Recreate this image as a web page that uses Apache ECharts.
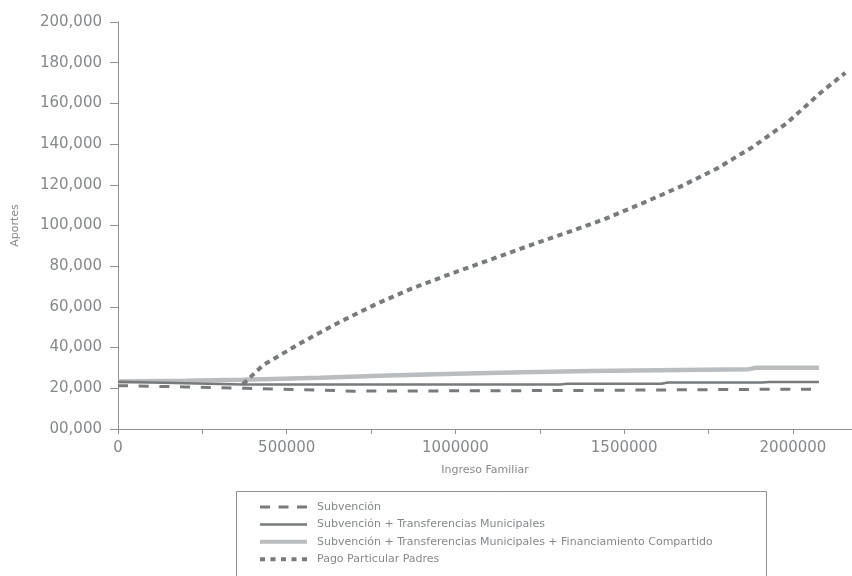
<!DOCTYPE html>
<html>
<head>
<meta charset="utf-8">
<script src="https://cdn.jsdelivr.net/npm/echarts@6/dist/echarts.min.js"></script>
<style>html,body{margin:0;padding:0;background:#fff}#c{width:852px;height:576px}</style>
</head>
<body>
<div id="c"></div>
<script>
// ---- data ----
const seriesNames = [
  'Subvención',
  'Subvención + Transferencias Municipales',
  'Subvención + Transferencias Municipales + Financiamiento Compartido',
  'Pago Particular Padres'
];
const subvX = [0, 200000, 380000, 550000, 700000, 900000, 1100000, 1300000, 1500000, 1700000, 1900000, 2077000];
const subvY = [21300, 20700, 20000, 19300, 18600, 18700, 18800, 18900, 19100, 19300, 19500, 19600];

const transX = [0, 370000, 1310000, 1330000, 1610000, 1630000, 1910000, 1930000, 2077000];
const transY = [23200, 21900, 21900, 22200, 22200, 22800, 22800, 23100, 23100];

const finX = [0, 200000, 370000, 600000, 800000, 1000000, 1200000, 1400000, 1600000, 1870000, 1890000, 2077000];
const finY = [23300, 23700, 24200, 25200, 26300, 27200, 27900, 28500, 28900, 29400, 30100, 30100];

const pagoX = [370000, 430000, 540000, 650000, 760000, 870000, 985000, 1100000, 1210000, 1330000, 1440000, 1555000, 1665000, 1775000, 1880000, 1955000, 1980000, 2080000, 2155000];
const pagoY = [22000, 31400, 42100, 52000, 61000, 69000, 76200, 83000, 89600, 96500, 103000, 111000, 119000, 128000, 138500, 147300, 150000, 165000, 175000];

const xLabelValues = [0, 500000, 1000000, 1500000, 2000000];
const xTickValues = [0, 250000, 500000, 750000, 1000000, 1250000, 1500000, 1750000, 2000000];

// ---- chart ----
const zip = (xs, ys) => xs.map((x, i) => [x, ys[i]]);
const FONT = 'DejaVu Sans';
const dark = '#777b7e';
const light = '#b9bdbf';
const axisCol = '#8f9294';
const textCol = '#85898b';

const styles = [
  {color: dark, width: 3, type: [10, 10.7]},
  {color: dark, width: 2.5, type: 'solid'},
  {color: light, width: 4.5, type: 'solid'},
  {color: dark, width: 4, type: [5.5, 4.5]}
];
const legendStyles = [
  {color: dark, width: 3, type: [10, 8.5]},
  {color: dark, width: 2.5, type: 'solid'},
  {color: light, width: 4, type: 'solid'},
  {color: dark, width: 4, type: [5, 5.5]}
];

const chart = echarts.init(document.getElementById('c'), null, {renderer: 'canvas'});
chart.setOption({
  animation: false,
  textStyle: {fontFamily: FONT},
  grid: {left: 118, right: 0, top: 22, bottom: 147, containLabel: false},
  xAxis: {
    type: 'value', min: 0, max: 2175000, interval: 250000,
    name: 'Ingreso Familiar', nameLocation: 'middle', nameGap: 36,
    nameTextStyle: {color: textCol, fontSize: 11, fontFamily: FONT},
    axisLine: {show: true, lineStyle: {color: axisCol, width: 1}},
    axisTick: {show: true, length: 5, customValues: xTickValues, lineStyle: {color: axisCol}},
    axisLabel: {customValues: xLabelValues, color: textCol, fontSize: 15, margin: 12, fontFamily: FONT,
      formatter: v => String(v)},
    splitLine: {show: false}
  },
  yAxis: {
    type: 'value', min: 0, max: 200000, interval: 20000,
    name: 'Aportes', nameLocation: 'middle', nameRotate: 90, nameGap: 97,
    nameTextStyle: {color: textCol, fontSize: 11, fontFamily: FONT},
    axisLine: {show: true, lineStyle: {color: axisCol, width: 1}},
    axisTick: {show: true, length: 8, lineStyle: {color: axisCol}},
    axisLabel: {
      color: textCol, fontSize: 15, margin: 16, fontFamily: FONT,
      formatter: v => v === 0 ? '00,000' : v.toLocaleString('en-US')
    },
    splitLine: {show: false}
  },
  legend: {
    orient: 'vertical', left: 258, top: 500, padding: 0,
    itemWidth: 47, itemHeight: 14, itemGap: 3.4,
    itemStyle: {opacity: 0},
    textStyle: {color: textCol, fontSize: 11, lineHeight: 14, fontFamily: FONT, padding: [0, 0, 0, 5]},
    data: seriesNames.map((n, i) => ({name: n, lineStyle: legendStyles[i]}))
  },
  graphic: [{
    type: 'rect', left: 234, top: 489, silent: true,
    shape: {width: 530, height: 100},
    style: {fill: 'none', stroke: axisCol, lineWidth: 1}
  }],
  series: [
    {name: seriesNames[0], type: 'line', symbol: 'none', data: zip(subvX, subvY),
     lineStyle: styles[0], itemStyle: {color: dark}, z: 3},
    {name: seriesNames[1], type: 'line', symbol: 'none', data: zip(transX, transY),
     lineStyle: styles[1], itemStyle: {color: dark}, z: 3},
    {name: seriesNames[2], type: 'line', symbol: 'none', data: zip(finX, finY),
     lineStyle: styles[2], itemStyle: {color: light}, z: 2},
    {name: seriesNames[3], type: 'line', symbol: 'none', data: zip(pagoX, pagoY),
     lineStyle: styles[3], itemStyle: {color: dark}, z: 4}
  ]
});
</script>
</body>
</html>
